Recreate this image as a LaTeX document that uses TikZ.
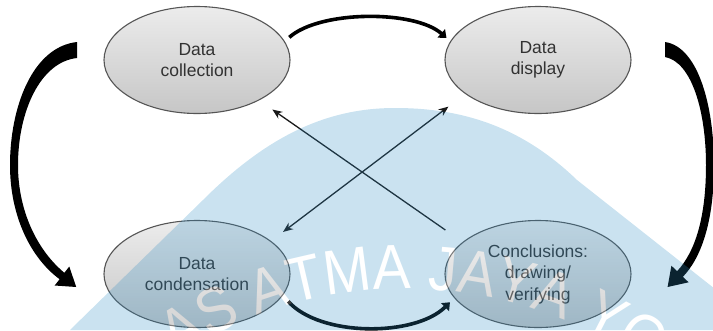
\documentclass[tikz,border=0pt]{standalone}
\usepackage{fontspec}
\setmainfont{Liberation Sans}
\newfontfamily\wmfont[FakeStretch=0.9]{Liberation Sans}
\usetikzlibrary{shapes.geometric,arrows.meta,decorations.text}
\definecolor{ellfillA}{RGB}{236,236,236}
\definecolor{ellfillB}{RGB}{198,198,198}
\definecolor{ellline}{RGB}{85,85,85}
\definecolor{txt}{RGB}{50,50,50}
\definecolor{ink}{RGB}{25,25,25}
\definecolor{wmblue}{RGB}{45,140,195}
\newcommand\wmstyle{\wmfont\fontsize{63}{63}\selectfont}

\begin{document}
\begin{tikzpicture}[x=1pt,y=-1pt,
  stage/.style={ellipse, draw=ellline, line width=1.1pt,
    top color=ellfillA, bottom color=ellfillB,
    minimum width=186pt, minimum height=107pt, inner sep=0pt,
    align=center, text=txt, font=\fontsize{17.5}{21.5}\selectfont},
  crosslink/.style={draw=ink, line width=1.3pt},
  cyclearc/.style={draw=black, line width=3.6pt,
    -{Triangle[length=7pt,width=11pt]}},
  blockarrow/.style={fill=black}]

\useasboundingbox (0,0) rectangle (713,330);
\clip (0,0) rectangle (713,330);

% the four stages
\node[stage] (dc)    at (197,60)  {Data\\collection};
\node[stage] (dd)    at (538,60)  {Data\\display};
\node[stage] (dcond) at (197,274) {Data\\condensation};
\node[stage] (concl) at (538,274) {Conclusions:\\drawing/\\verifying};

% arcs between neighbouring stages
\draw[cyclearc, shorten <=6pt, shorten >=5pt]
  (dc.12) .. controls (320,10) and (415,10) .. (dd.168);
\draw[cyclearc, shorten <=8pt, shorten >=6pt]
  (dcond.-14) .. controls (320,337) and (415,337) .. (concl.196);

% diagonal links
\draw[crosslink, -{Stealth[length=10pt,width=8pt]},
      shorten <=21pt, shorten >=16pt] (concl.157) -- (dc.-33);
\draw[crosslink, {Stealth[length=10pt,width=8pt]}-{Stealth[length=10pt,width=8pt]},
      shorten <=21pt, shorten >=15pt] (dd.205) -- (dcond.24);

% large curved arrows on the sides
\fill[blockarrow] (77,42) .. controls (32,47) and (10,108) .. (10,165)
  .. controls (10,218) and (32,259) .. (59.6,279.2)
  -- (54.7,285.5) -- (76.2,287) -- (69.3,266.5) -- (64.4,272.8)
  .. controls (38,251) and (18,212) .. (18,165)
  .. controls (18,112) and (40,62) .. (77,58) -- cycle;
\fill[blockarrow] (665,42) .. controls (699,47) and (714,108) .. (714,165)
  .. controls (714,222) and (701,258) .. (682.9,276.8)
  -- (688.6,282.3) -- (667.6,287) -- (671.4,265.7) -- (677.1,271.2)
  .. controls (695,252) and (706,218) .. (706,165)
  .. controls (706,112) and (692,62) .. (665,57) -- cycle;

% watermark
\begin{scope}[transparency group, opacity=0.25]
  \fill[wmblue] (70,330) -- (203,200) .. controls (270,133) and (330,108) .. (395,108)
    .. controls (460,108) and (520,125) .. (577,180) -- (767,330) -- cycle;
  \begin{scope}[yscale=-1]
    \path[decorate, decoration={text along path, text color=white,
        text={|\wmstyle|AS ATMA JAYA YO}, text align=left}]
      (405,-709) ++(123.1:420) arc[start angle=123.1, end angle=40, radius=420];
  \end{scope}
\end{scope}
\end{tikzpicture}
\end{document}
